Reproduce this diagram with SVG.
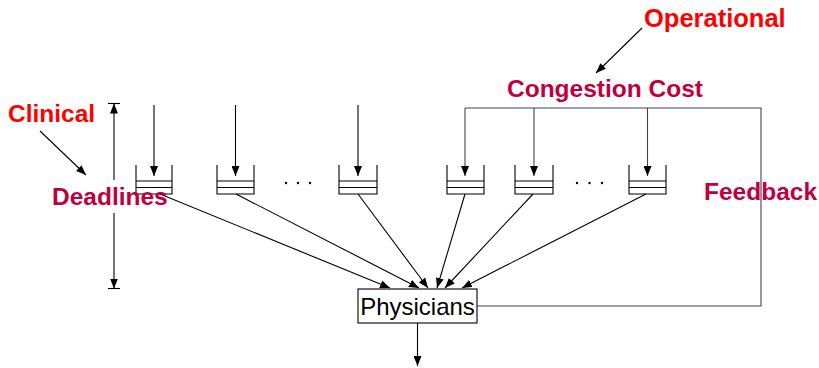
<svg xmlns="http://www.w3.org/2000/svg" width="819" height="368" viewBox="0 0 819 368">
<style>
.ln{stroke:#000;stroke-width:1.1;fill:none}
.fb{stroke:#444;stroke-width:1.1;fill:none}
.q{stroke:#000;stroke-width:1.1;fill:none}
.lbl{font-family:"Liberation Sans",Arial,sans-serif;font-weight:bold;font-size:24.5px}
.red{fill:#FF0000}
.pur{fill:#BF0040}
.dot{fill:#000}
</style>
<defs>
<marker id="ah" viewBox="0 0 10 8" refX="10" refY="4" markerWidth="10" markerHeight="8" markerUnits="userSpaceOnUse" orient="auto">
<path d="M0,0 L10,4 L0,8 Z" fill="#000"/>
</marker>
</defs>
<rect width="819" height="368" fill="#fff"/>
<g id="connectors">
<line class="ln" x1="154" y1="105" x2="154" y2="176" marker-end="url(#ah)"/>
<line class="ln" x1="235.5" y1="105" x2="235.5" y2="176" marker-end="url(#ah)"/>
<line class="ln" x1="358" y1="105" x2="358" y2="176" marker-end="url(#ah)"/>
<path class="fb" d="M477,306 H761 V108 H465"/>
<line class="fb" x1="465" y1="108" x2="465" y2="176" marker-end="url(#ah)"/>
<line class="fb" x1="534" y1="108" x2="534" y2="176" marker-end="url(#ah)"/>
<line class="fb" x1="647.5" y1="108" x2="647.5" y2="176" marker-end="url(#ah)"/>
<line class="ln" x1="160" y1="194" x2="390" y2="288" marker-end="url(#ah)"/>
<line class="ln" x1="236" y1="194" x2="419" y2="288" marker-end="url(#ah)"/>
<line class="ln" x1="358" y1="194" x2="428" y2="288" marker-end="url(#ah)"/>
<line class="ln" x1="465" y1="194" x2="437" y2="288" marker-end="url(#ah)"/>
<line class="ln" x1="533" y1="194" x2="445" y2="288" marker-end="url(#ah)"/>
<line class="ln" x1="646" y1="194" x2="462" y2="288" marker-end="url(#ah)"/>
<line class="ln" x1="417.5" y1="323" x2="417.5" y2="366" marker-end="url(#ah)"/>
<line class="ln" x1="40" y1="131" x2="86" y2="175" marker-end="url(#ah)"/>
<line class="ln" x1="642" y1="28" x2="596" y2="73" marker-end="url(#ah)"/>
<line class="ln" x1="114" y1="180" x2="114" y2="103.5" marker-end="url(#ah)"/>
<line class="ln" x1="114" y1="213" x2="114" y2="288.5" marker-end="url(#ah)"/>
<line class="ln" x1="108" y1="103.5" x2="120" y2="103.5"/>
<line class="ln" x1="108" y1="288.5" x2="120" y2="288.5"/>
</g>
<g id="queue1"><path class="q" d="M136,165 V194 H172 V165 M136,181 H172 M136,187.5 H172"/></g>
<g id="queue2"><path class="q" d="M217,165 V194 H254 V165 M217,181 H254 M217,187.5 H254"/></g>
<g id="dots1"><circle class="dot" cx="286" cy="183" r="1.2"/><circle class="dot" cx="298" cy="183" r="1.2"/><circle class="dot" cx="310" cy="183" r="1.2"/></g>
<g id="queue3"><path class="q" d="M339,165 V194 H377 V165 M339,181 H377 M339,187.5 H377"/></g>
<g id="queue4"><path class="q" d="M447,165 V194 H484 V165 M447,181 H484 M447,187.5 H484"/></g>
<g id="queue5"><path class="q" d="M515,165 V194 H553 V165 M515,181 H553 M515,187.5 H553"/></g>
<g id="dots2"><circle class="dot" cx="577" cy="183" r="1.2"/><circle class="dot" cx="589.5" cy="183" r="1.2"/><circle class="dot" cx="602" cy="183" r="1.2"/></g>
<g id="queue6"><path class="q" d="M629,165 V194 H666 V165 M629,181 H666 M629,187.5 H666"/></g>
<g id="physicians">
<rect x="358" y="289" width="119" height="34" fill="#fff" stroke="#000" stroke-width="1.1"/>
<text x="417.5" y="315" text-anchor="middle" font-family="Liberation Sans,Arial,sans-serif" font-size="24">Physicians</text>
</g>
<g id="clinical"><text class="lbl red" x="8" y="122">Clinical</text></g>
<g id="deadlines"><text class="lbl pur" x="52" y="205">Deadlines</text></g>
<g id="operational"><text class="lbl red" x="644" y="27" style="font-size:25.5px">Operational</text></g>
<g id="congestion"><text class="lbl pur" x="507" y="97">Congestion Cost</text></g>
<g id="feedback"><text class="lbl pur" x="704" y="200">Feedback</text></g>
</svg>
